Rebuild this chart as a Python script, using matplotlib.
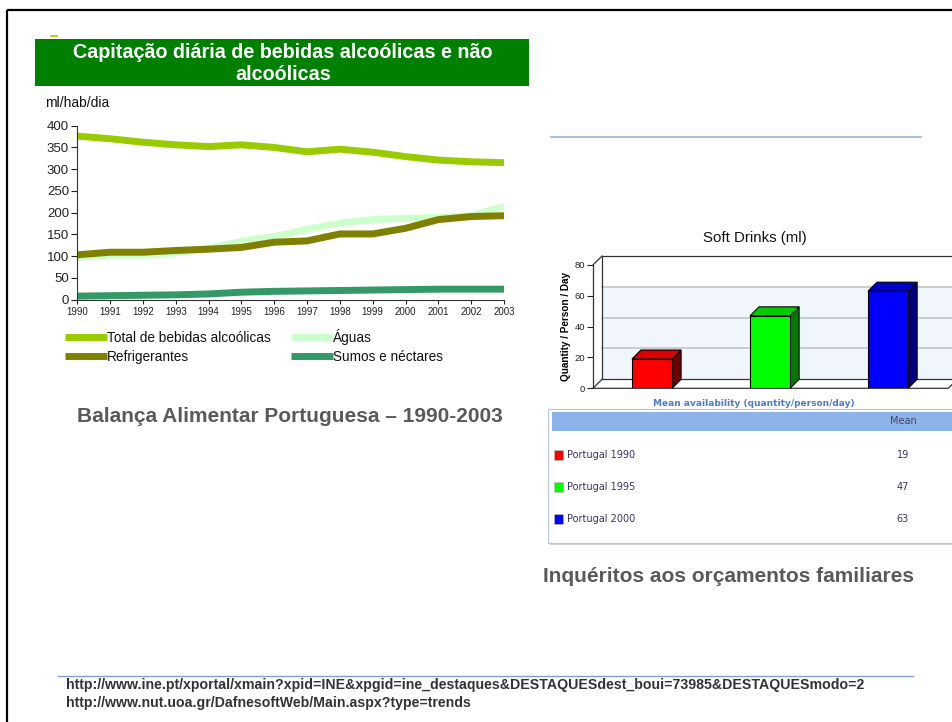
import matplotlib
matplotlib.use("Agg")
import matplotlib.pyplot as plt
from matplotlib.patches import Rectangle, Polygon

# ---- data: Balança Alimentar Portuguesa (ml/hab/dia)
years = list(range(1990, 2004))
total_alcool = [376, 370, 362, 356, 352, 356, 350, 340, 346, 339, 329, 321, 317, 315]
aguas = [97, 102, 102, 107, 118, 134, 145, 162, 176, 184, 187, 189, 193, 214]
refrigerantes = [103, 109, 109, 113, 116, 120, 132, 135, 151, 151, 164, 184, 191, 193]
sumos = [8, 9, 10, 11, 13, 17, 19, 20, 21, 22, 23, 24, 24, 24]

# ---- data: Soft Drinks (DAFNE)
sd_labels = ["Portugal 1990", "Portugal 1995", "Portugal 2000"]
sd_values = [19, 47, 63]
sd_front = ["#ff0000", "#00ff00", "#0000ff"]
sd_top = ["#d80000", "#00cc00", "#0000cc"]
sd_side = ["#700000", "#007a00", "#000080"]

W, H = 953, 722
fig = plt.figure(figsize=(W / 100, H / 100), dpi=100)
fig.patch.set_facecolor("white")


def box(x0, y0, x1, y1):
    return [x0 / W, 1 - y1 / H, (x1 - x0) / W, (y1 - y0) / H]


# overlay in pixel coordinates for slide decoration
ov = fig.add_axes([0, 0, 1, 1])
ov.set_xlim(0, W)
ov.set_ylim(H, 0)
ov.axis("off")

ARIAL = "Liberation Sans"
VERD = "DejaVu Sans"

# slide frame
ov.plot([7, W], [10, 10], color="black", lw=1.6, solid_capstyle="butt")
ov.plot([7, 7], [10, H], color="black", lw=1.6, solid_capstyle="butt")

# left panel title banner
ov.add_patch(Rectangle((35, 39), 494, 47, facecolor="#008000", edgecolor="none"))
ov.plot([51, 57], [36, 36], color="#99cc00", lw=1.2)
ov.text(283, 52, "Capitação diária de bebidas alcoólicas e não", color="white",
        fontsize=14.2, fontweight="bold", family=ARIAL, ha="center", va="center")
ov.text(283, 74, "alcoólicas", color="white", fontsize=14.2, fontweight="bold",
        family=ARIAL, ha="center", va="center")
ov.text(45, 103, "ml/hab/dia", fontsize=10, family=ARIAL, color="#111111",
        ha="left", va="center")

# ---- line chart
ax = fig.add_axes(box(77.3, 125.7, 504, 299.6))
series = [
    ("Total de bebidas alcoólicas", total_alcool, "#99cc00"),
    ("Águas", aguas, "#ccffcc"),
    ("Refrigerantes", refrigerantes, "#808000"),
    ("Sumos e néctares", sumos, "#339966"),
]
handles = {}
for name, vals, col in series:
    (ln,) = ax.plot(years, vals, color=col, lw=5, solid_joinstyle="round",
                    solid_capstyle="butt", clip_on=False)
    handles[name] = ln
ax.set_xlim(1990, 2003)
ax.set_ylim(0, 400)
ax.set_yticks(range(0, 401, 50))
ax.set_xticks(years)
for s in ["top", "right"]:
    ax.spines[s].set_visible(False)
for s in ["left", "bottom"]:
    ax.spines[s].set_color("#333333")
    ax.spines[s].set_linewidth(0.8)
ax.tick_params(axis="y", direction="out", length=4, width=0.8, labelsize=9.5,
               colors="#222222", pad=2)
ax.tick_params(axis="x", direction="out", length=3, width=0.8, labelsize=7,
               colors="#222222", pad=2)
for lab in ax.get_xticklabels() + ax.get_yticklabels():
    lab.set_family(ARIAL)

order = ["Total de bebidas alcoólicas", "Refrigerantes", "Águas", "Sumos e néctares"]
leg = ax.legend([handles[k] for k in order], order, ncol=2, loc="upper left",
                bbox_to_anchor=(65 / W, 1 - 329 / H), bbox_transform=fig.transFigure,
                frameon=False, prop={"family": ARIAL, "size": 9.8},
                handlelength=3.1, handletextpad=0.0, columnspacing=1.45,
                labelspacing=0.38, borderpad=0, borderaxespad=0)
for t in leg.get_texts():
    t.set_color("#111111")

ov.text(290, 417, "Balança Alimentar Portuguesa – 1990-2003", fontsize=15,
        fontweight="bold", family=ARIAL, color="#595959", ha="center", va="center")

# ---- right panel
ov.plot([551, 921], [137, 137], color="#95b3d7", lw=1.2)
ov.text(755, 238, "Soft Drinks (ml)", fontsize=10.8, family=ARIAL, color="#111111",
        ha="center", va="center")

bx = fig.add_axes(box(593, 265, 953, 388.3))
bx.set_xlim(-0.5, 2.55)
bx.set_ylim(0, 80)
bx.patch.set_visible(False)
dx = 9 / 118.0
dy = 9 / (123.3 / 80)
xl, xr = -0.5, 2.6
# back wall background and grid
bx.add_patch(Polygon([(xl + dx, dy), (xr, dy), (xr, 60 + dy), (xl + dx, 60 + dy)],
                     closed=True, facecolor="#f1f5fc", edgecolor="none",
                     clip_on=False, zorder=0))
for g in [20, 40, 60]:
    bx.plot([xl + dx, xr], [g + dy, g + dy], color="#c8c8cc", lw=1.3,
            clip_on=False, zorder=1)
wall_kw = dict(color="#333333", lw=0.9, clip_on=False, zorder=2)
bx.plot([xl + dx, xl + dx, xr], [dy, 80 + dy, 80 + dy], **wall_kw)
bx.plot([xl, xl + dx], [80, 80 + dy], **wall_kw)
bx.plot([xl, xl + dx], [0, dy], **wall_kw)
bx.plot([xl + dx, xr], [dy, dy], **wall_kw)
bx.plot([xl, 2.51, 2.51 + dx], [0, 0, dy], **wall_kw)

bw = 0.34
for i, v in enumerate(sd_values):
    x0, x1 = i - bw / 2, i + bw / 2
    bx.add_patch(Polygon([(x1, 0), (x1 + dx, dy), (x1 + dx, v + dy), (x1, v)],
                         closed=True, facecolor=sd_side[i], edgecolor="black",
                         lw=0.8, zorder=3, clip_on=False))
    bx.add_patch(Polygon([(x0, v), (x1, v), (x1 + dx, v + dy), (x0 + dx, v + dy)],
                         closed=True, facecolor=sd_top[i], edgecolor="black",
                         lw=0.8, zorder=3, clip_on=False))
    bx.add_patch(Rectangle((x0, 0), bw, v, facecolor=sd_front[i],
                           edgecolor="black", lw=0.8, zorder=4))

bx.set_yticks(range(0, 81, 20))
bx.set_xticks([])
for s in ["top", "right", "bottom"]:
    bx.spines[s].set_visible(False)
bx.spines["left"].set_color("#333333")
bx.spines["left"].set_linewidth(0.9)
bx.tick_params(axis="y", direction="out", length=4, width=0.8, labelsize=6.8,
               colors="#222222", pad=1.5)
for lab in bx.get_yticklabels():
    lab.set_family(ARIAL)
bx.set_ylabel("Quantity / Person / Day", fontsize=7.2, fontweight="bold",
              family=ARIAL, labelpad=3)

# table below the bar chart
ov.text(754, 403, "Mean availability (quantity/person/day)", fontsize=6.5,
        fontweight="bold", family=VERD, color="#4f7cc6", ha="center", va="center")
ov.add_patch(Rectangle((550, 411), 410, 134, facecolor="#d0d4dc",
                       edgecolor="none"))
ov.add_patch(Rectangle((548, 409), 410, 134, facecolor="white",
                       edgecolor="#b8c4d8", lw=0.8))
ov.add_patch(Rectangle((552, 412), 405, 19, facecolor="#8db4ea", edgecolor="none"))
ov.text(903, 421.5, "Mean", fontsize=7, family=VERD, color="#444466",
        ha="center", va="center")
for i, (lab, v) in enumerate(zip(sd_labels, sd_values)):
    yy = 455 + 32 * i
    ov.add_patch(Rectangle((554, yy - 5), 9, 10, facecolor=sd_front[i],
                           edgecolor="#bbbbbb", lw=0.5))
    ov.text(567, yy, lab, fontsize=7, family=VERD, color="#333366",
            ha="left", va="center")
    ov.text(903, yy, str(v), fontsize=7, family=VERD, color="#333366",
            ha="center", va="center")

ov.text(729, 577, "Inquéritos aos orçamentos familiares", fontsize=15,
        fontweight="bold", family=ARIAL, color="#595959", ha="center", va="center")

# sources
ov.plot([58, 913], [676, 676], color="#7f9fcc", lw=1.0)
ov.text(66, 685, "http://www.ine.pt/xportal/xmain?xpid=INE&xpgid=ine_destaques&DESTAQUESdest_boui=73985&DESTAQUESmodo=2",
        fontsize=10.2, fontweight="bold", family=["Liberation Sans Narrow", ARIAL],
        color="#333333", ha="left", va="center")
ov.text(66, 703, "http://www.nut.uoa.gr/DafnesoftWeb/Main.aspx?type=trends",
        fontsize=10.2, fontweight="bold", family=["Liberation Sans Narrow", ARIAL],
        color="#333333", ha="left", va="center")

fig.savefig("out.png", dpi=100)
